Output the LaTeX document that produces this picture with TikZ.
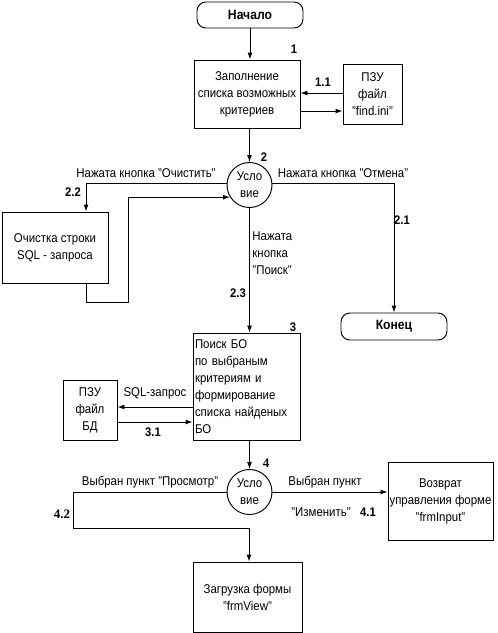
\documentclass[tikz,border=0pt]{standalone}
\usepackage{fontspec}
\setmainfont{Liberation Sans}[FakeStretch=0.9]
\newfontfamily\serifbf{Liberation Serif}
\usetikzlibrary{arrows.meta}
\begin{document}
\begin{tikzpicture}[x=1pt,y=-1pt, line width=0.95pt,
  >={Latex[length=7pt,width=5pt]},
  font=\fontsize{12.7}{17}\selectfont,
  box/.style={draw, inner sep=0pt, align=center},
  term/.style={draw, rounded corners=9pt, inner sep=0pt, font=\fontsize{13.5}{17}\selectfont\bfseries},
  cond/.style={draw, circle, minimum size=45pt, inner sep=0pt, align=center},
  lbl/.style={inner sep=0pt, align=center},
  num/.style={inner sep=0pt, font=\fontsize{12.5}{14}\selectfont\bfseries},
  snum/.style={inner sep=0pt, font=\fontsize{13}{14}\selectfont\serifbf\bfseries}]
\useasboundingbox (0,0) rectangle (498,633);

% nodes
\node[term, minimum width=106pt, minimum height=26pt] (start) at (250,15) {Начало};
\node[box, minimum width=106pt, minimum height=68pt] (b1) at (247,94) {Заполнение\\списка возможных\\критериев};
\node[box, minimum width=59pt, minimum height=60pt] (p1) at (372.5,94) {ПЗУ\\файл\\"find.ini"};
\node[cond] (c2) at (249.5,185) {Усло\\вие};
\node[box, minimum width=106pt, minimum height=71pt] (b22) at (55,247.5) {Очистка строки\\SQL - запроса};
\node[term, minimum width=106pt, minimum height=27pt] (end) at (394,326.5) {Конец};
\node[box, minimum width=107pt, minimum height=107pt, text width=103pt, align=left] (b3) at (246.5,386.5) {Поиск БО\\по выбраным\\критериям и\\формирование\\списка найденых\\БО};
\node[box, minimum width=54pt, minimum height=60pt] (p2) at (90,410) {ПЗУ\\файл\\БД};
\node[cond] (c4) at (249.5,492) {Усло\\вие};
\node[box, minimum width=105pt, minimum height=78pt] (b41) at (440.5,501) {Возврат\\управления форме\\"frmInput"};
\node[box, minimum width=109pt, minimum height=70pt] (b42) at (247.5,597) {Загрузка формы\\"frmView"};

% labels
\node[num] (n1) at (294,49) {1};
\node[num] (n11) at (323,82) {1.1};
\node[num] (n2) at (264,157) {2};
\node[lbl] (t22) at (146,173) {Нажата кнопка "Очистить"};
\node[num] (n22) at (73,192) {2.2};
\node[lbl] (t21) at (343,173) {Нажата кнопка "Отмена"};
\node[num] (n21) at (402,220) {2.1};
\node[lbl, anchor=north west, align=left] (t23) at (252,231) {Нажата\\кнопка\\"Поиск"};
\node[num] (n23) at (238,293) {2.3};
\node[num] (n3) at (293,327) {3};
\node[lbl] (t31a) at (155,393) {SQL-запрос};
\node[num] (n31) at (153,432) {3.1};
\node[snum] (n4) at (266,463) {4};
\node[lbl] (t42) at (150,482) {Выбран пункт "Просмотр"};
\node[snum] (n42) at (62,514) {4.2};
\node[lbl] (t41a) at (325,482) {Выбран пункт};
\node[lbl] (t41b) at (321,512) {"Изменить"};
\node[num] (n41) at (368,512) {4.1};

\coordinate (ra) at (128,302);
\coordinate (la) at (73,528);

% connectors
\draw[->] (start.south) -- (start.south |- b1.north);
\draw[->] ([yshift=1pt]p1.west) -- ([yshift=1pt]p1.west -| b1.east);
\draw[->] ([yshift=-17pt]b1.east) -- ([yshift=-17pt]b1.east -| p1.west);
\draw[->] (b1.south -| c2) -- (c2.north);
\draw[->] (c2.175) -| ([xshift=31pt]b22.north);
\draw[->] ([xshift=31pt]b22.south) |- (ra) |- (c2.212);
\draw[->] (c2.5) -| (end.north);
\draw[->] (c2.south) -- (c2.south |- b3.north);
\draw[->] ([yshift=-20.5pt]b3.west) -- ([yshift=-20.5pt]b3.west -| p2.east);
\draw[->] ([yshift=-12pt]p2.east) -- ([yshift=-12pt]p2.east -| b3.west);
\draw[->] (b3.south -| c4) -- (c4.north);
\draw[->] (c4.west) -| (la) -| ([xshift=1.5pt]b42.north);
\draw[->] (c4.east) -- (c4.east -| b41.west);
\end{tikzpicture}
\end{document}
